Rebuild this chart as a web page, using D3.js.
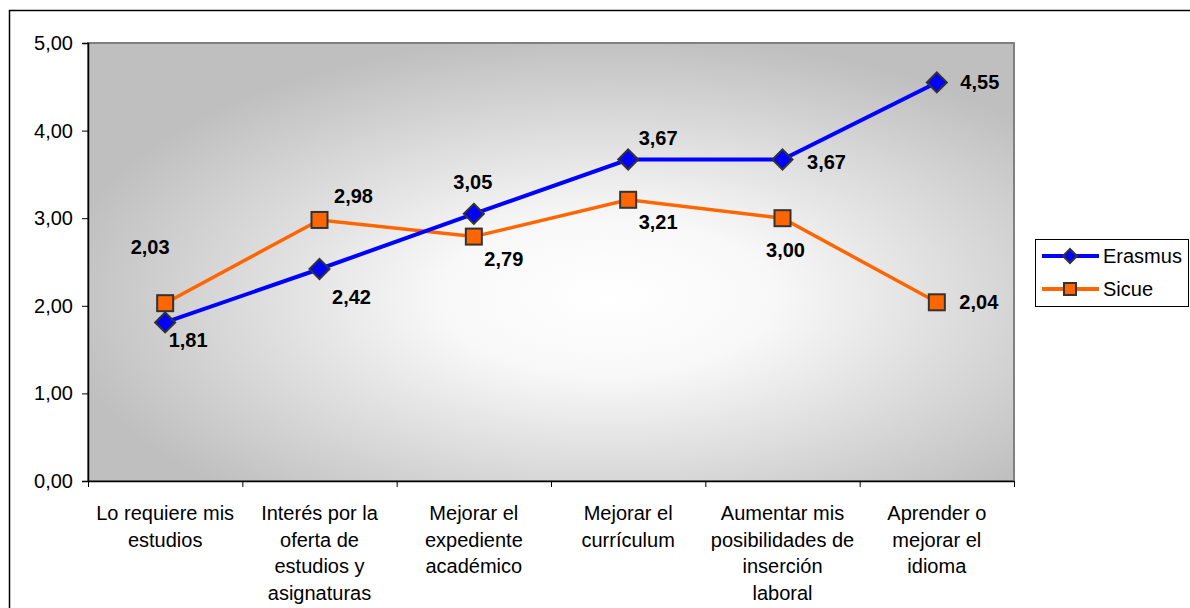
<!DOCTYPE html>
<html><head><meta charset="utf-8">
<script src="https://cdn.jsdelivr.net/npm/d3@7"></script>
<style>body{margin:0;background:#fff}svg{display:block}text{font-family:"Liberation Sans",Arial,sans-serif}</style>
</head><body>
<svg id="c" width="1190" height="608"></svg>
<script>
const categories = [
  ["Lo requiere mis","estudios"],
  ["Interés por la","oferta de","estudios y","asignaturas"],
  ["Mejorar el","expediente","académico"],
  ["Mejorar el","currículum"],
  ["Aumentar mis","posibilidades de","inserción","laboral"],
  ["Aprender o","mejorar el","idioma"]
];
const erasmus = [1.81, 2.42, 3.05, 3.67, 3.67, 4.55];
const sicue = [2.03, 2.98, 2.79, 3.21, 3.00, 2.04];
const yTicks = [0,1,2,3,4,5];
const seriesNames = ["Erasmus","Sicue"];
// label offsets (layout only)
const erasmusLabelOff = [[23,18],[32,28],[-1,-32],[30,-22],[44,2],[43,0]];
const sicueLabelOff = [[-15,-56],[34,-24],[30,22],[30,22],[3,32],[42,0]];

const fmt = v => v.toFixed(2).replace(".", ",");
const svg = d3.select("#c");
const m = {l:88, r:1014, t:43, b:481};
const FS = 20;

// outer frame
svg.append("path").attr("d","M9.5,620V10.5H1200").attr("fill","none").attr("stroke","#000").attr("stroke-width",1.5);

const defs = svg.append("defs");
const g = defs.append("radialGradient").attr("id","bg").attr("cx","0.56").attr("cy","0.58").attr("r","0.6").attr("fx","0.56").attr("fy","0.58");
g.append("stop").attr("offset","0").attr("stop-color","#ffffff");
g.append("stop").attr("offset","0.3").attr("stop-color","#f8f8f8");
g.append("stop").attr("offset","1").attr("stop-color","#bfbfbf");

const x = d3.scaleBand().domain(d3.range(categories.length)).range([m.l, m.r]);
const y = d3.scaleLinear().domain([0,5]).range([m.b, m.t]);
const cx = i => x(i) + x.bandwidth()/2;

svg.append("rect").attr("x",m.l).attr("y",m.t).attr("width",m.r-m.l).attr("height",m.b-m.t)
  .attr("fill","url(#bg)").attr("stroke","#808080").attr("stroke-width",2);

// y axis
const ya = svg.append("g").attr("transform",`translate(${m.l},0)`)
  .call(d3.axisLeft(y).tickValues(yTicks).tickFormat(fmt).tickSize(6).tickPadding(9));
ya.select(".domain").attr("stroke","#000").attr("stroke-width",1.5);
ya.selectAll(".tick line").attr("stroke","#000");
ya.selectAll("text").attr("font-size",FS).attr("fill","#000").attr("font-family","Liberation Sans, Arial, sans-serif");

// x axis
const xa = svg.append("g").attr("transform",`translate(0,${m.b})`)
  .call(d3.axisBottom(d3.scaleLinear().domain([0,6]).range([m.l,m.r])).tickValues(d3.range(7)).tickFormat("").tickSize(6).tickSizeOuter(0));
xa.select(".domain").attr("stroke","#000").attr("stroke-width",1.5);
xa.selectAll(".tick line").attr("stroke","#000");

categories.forEach((lines,i)=>{
  const t = svg.append("text").attr("text-anchor","middle").attr("font-size",FS).attr("fill","#000");
  lines.forEach((s,k)=>t.append("tspan").attr("x",cx(i)).attr("y",520 + k*26.7).text(s));
});

const line = d3.line().x((d,i)=>cx(i)).y(d=>y(d));
svg.append("path").datum(sicue).attr("d",line).attr("fill","none").attr("stroke","#ff6600").attr("stroke-width",3.5);
svg.append("path").datum(erasmus).attr("d",line).attr("fill","none").attr("stroke","#0000ff").attr("stroke-width",4);

const diamond = (px,py,s)=>`M${px},${py-s}L${px+s},${py}L${px},${py+s}L${px-s},${py}Z`;
svg.selectAll(".sq").data(sicue).join("rect").attr("x",(d,i)=>cx(i)-8).attr("y",d=>y(d)-8)
  .attr("width",16).attr("height",16).attr("fill","#ff6600").attr("stroke","#333").attr("stroke-width",2);
svg.selectAll(".dm").data(erasmus).join("path").attr("d",(d,i)=>diamond(cx(i),y(d),10))
  .attr("fill","#0000ff").attr("stroke","#333").attr("stroke-width",2);

const lab = (arr, off) => svg.selectAll(null).data(arr).join("text")
  .attr("x",(d,i)=>cx(i)+off[i][0]).attr("y",(d,i)=>y(d)+off[i][1]+7)
  .attr("text-anchor","middle").attr("font-size",FS).attr("font-weight","bold").attr("fill","#000").text(fmt);
lab(erasmus, erasmusLabelOff);
lab(sicue, sicueLabelOff);

// legend
const lg = svg.append("g");
lg.append("rect").attr("x",1035.5).attr("y",239.5).attr("width",153).attr("height",67).attr("fill","#fff").attr("stroke","#000").attr("stroke-width",1);
const colors = ["#0000ff","#ff6600"];
seriesNames.forEach((n,k)=>{
  const yy = 256 + k*33;
  lg.append("line").attr("x1",1042).attr("x2",1099).attr("y1",yy).attr("y2",yy).attr("stroke",colors[k]).attr("stroke-width",4);
  if(k===0) lg.append("path").attr("d",diamond(1070,yy,7)).attr("fill","#0000ff").attr("stroke","#333").attr("stroke-width",2);
  else lg.append("rect").attr("x",1064).attr("y",yy-6).attr("width",12).attr("height",12).attr("fill","#ff6600").attr("stroke","#333").attr("stroke-width",2);
  lg.append("text").attr("x",1103).attr("y",yy+7).attr("font-size",FS).attr("fill","#000").text(n);
});
</script>
</body></html>
